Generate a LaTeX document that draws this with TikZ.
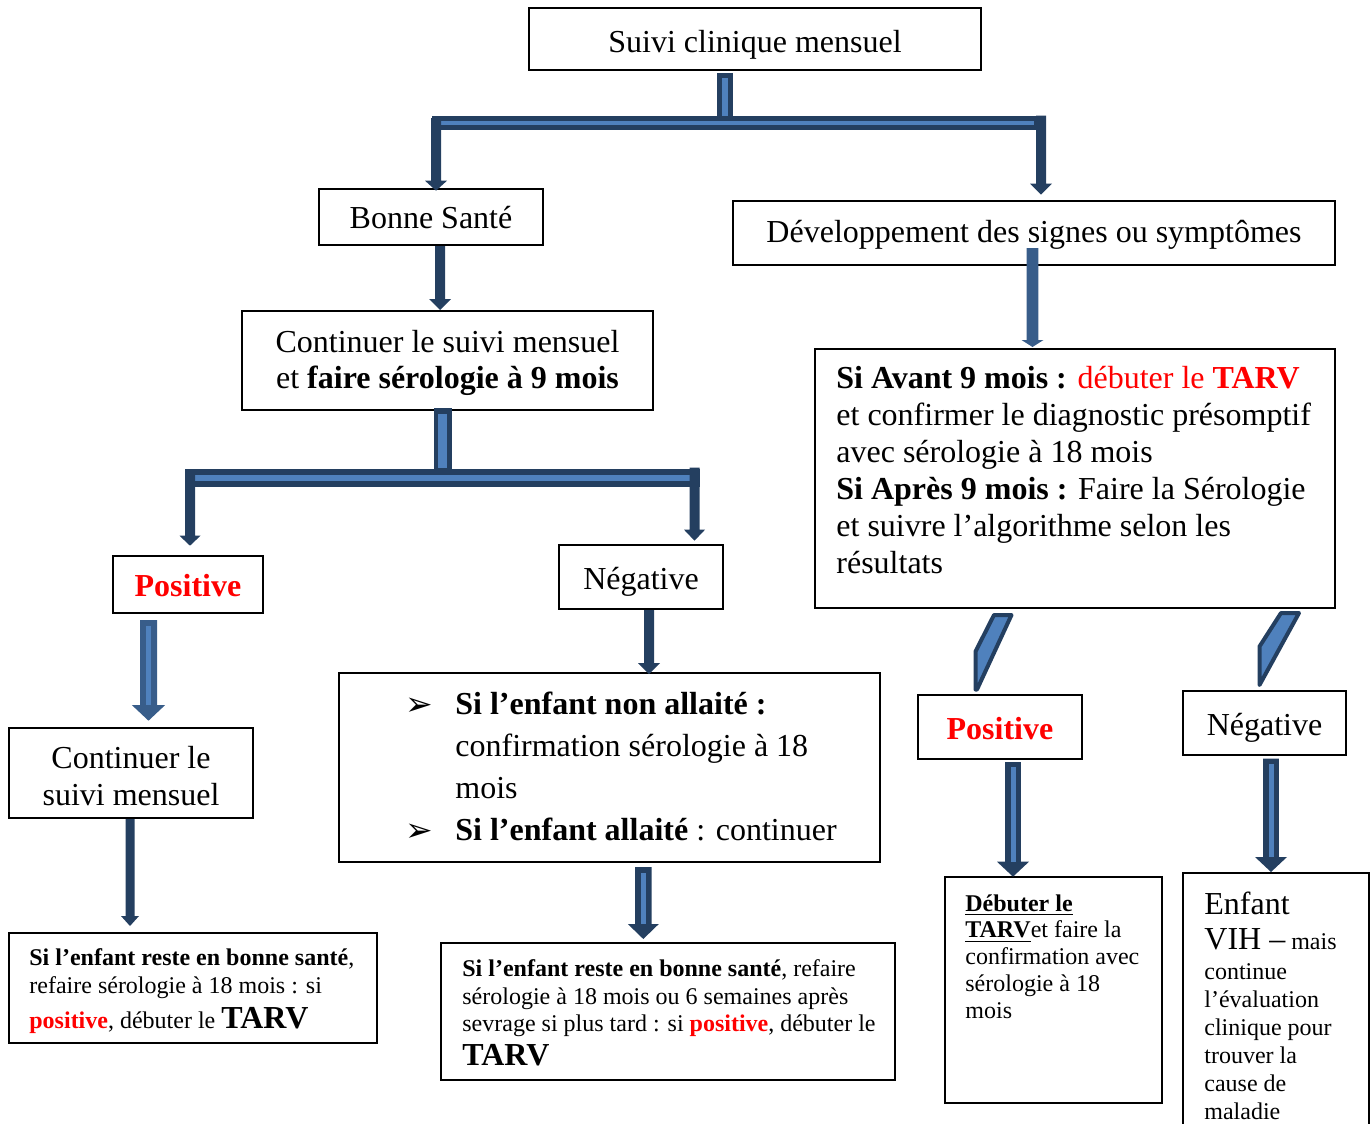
\documentclass[tikz,border=0pt]{standalone}
\usepackage{fontspec}
\setmainfont{Liberation Serif}
\newfontfamily\dejavu{DejaVu Sans}
\usetikzlibrary{calc}
\definecolor{adark}{HTML}{243F60}
\definecolor{amid}{HTML}{385D8A}
\definecolor{alight}{HTML}{4F81BD}
\definecolor{tred}{HTML}{FF0000}
\newcommand\solidarrow[6]{%
  \fill[#1] let \p1=#2, \p2=#3 in
   (\x1-#4,\y1) -- (\x1+#4,\y1) -- (\x1+#4,\y2+#6) -- (\x1+#5,\y2+#6) -- (\x1,\y2)
   -- (\x1-#5,\y2+#6) -- (\x1-#4,\y2+#6) -- cycle;}
\newcommand\stripearrow[8]{%
  \solidarrow{#1}{#2}{#3}{#4}{#5}{#6}
  \fill[#8] let \p1=#2, \p2=#3 in (\x1-#7,\y1-#4+#7) rectangle (\x1+#7,\y2+#6);}
\newcommand\bulsym{\raisebox{-0.5pt}{\dejavu\fontsize{16.5}{18}\selectfont ➢}}
\begin{document}
\begin{tikzpicture}[x=0.5pt,y=-0.5pt,
  box/.style={draw, line width=1pt, inner sep=0pt},
  mainf/.style={font=\fontsize{16}{18.5}\selectfont},
  smallf/.style={font=\fontsize{12}{14}\selectfont},
  lbl/.style={inner sep=0pt, align=center},
  txt/.style={anchor=north west, align=left, inner sep=0pt},
  diag/.style={fill=alight, draw=adark, line width=2pt, line join=round}]
\useasboundingbox (0,0) rectangle (1372,1124);
\clip (0,0) rectangle (1372,1124);

% boxes
\node[box, minimum width=226pt, minimum height=31pt] (top) at (755,39) {};
\node[box, minimum width=112pt, minimum height=28pt] (bonne) at (431,217) {};
\node[box, minimum width=301pt, minimum height=32pt] (dev) at (1034,233) {};
\node[box, minimum width=205.5pt, minimum height=49.5pt] (cont) at (447.5,360.5) {};
\node[box, minimum width=260pt, minimum height=129.5pt] (siav) at (1075,478.5) {};
\node[box, minimum width=75pt, minimum height=28.5pt] (posL) at (188,584.5) {};
\node[box, minimum width=82pt, minimum height=32pt] (negM) at (641,577) {};
\node[box, minimum width=122pt, minimum height=45pt] (contL) at (131,773) {};
\node[box, minimum width=270.5pt, minimum height=94.5pt] (bul) at (609.5,767.5) {};
\node[box, minimum width=82pt, minimum height=32pt] (posR) at (1000,727) {};
\node[box, minimum width=81.5pt, minimum height=32pt] (negR) at (1264.5,723) {};
\node[box, minimum width=184pt, minimum height=55pt] (botL) at (193,988) {};
\node[box, minimum width=227pt, minimum height=68.5pt] (botM) at (668,1011.5) {};
\node[box, minimum width=108.5pt, minimum height=113pt] (deb) at (1053.5,990) {};
\node[box, minimum width=93pt, minimum height=137pt] (enf) at (1276,1010) {};

% texts of the small boxes
\node[lbl, mainf] (topT) at ($(top)+(0,6)$) {Suivi clinique mensuel};
\node[lbl, mainf] (bonneT) at ($(bonne)+(0,1)$) {Bonne Santé};
\node[lbl, mainf] (devT) at ($(dev)+(0,2)$) {Développement des signes ou symptômes};
\node[lbl, font=\fontsize{16}{18}\selectfont] (contT) at ($(cont)+(0,2)$) {Continuer le suivi mensuel\\et \textbf{faire sérologie à 9 mois}};
\node[lbl, mainf] (posLT) at ($(posL)+(0,1)$) {\textcolor{tred}{\textbf{Positive}}};
\node[lbl, mainf] (negMT) at ($(negM)+(0,5)$) {Négative};
\node[lbl, mainf] (contLT) at ($(contL)+(0,3)$) {Continuer le\\suivi mensuel};
\node[lbl, mainf] (posRT) at ($(posR)+(0,2)$) {\textcolor{tred}{\textbf{Positive}}};
\node[lbl, mainf] (negRT) at ($(negR)+(0,5)$) {Négative};

% texts inside the large boxes
\node[txt, mainf] (siavT) at (836,366) {\textbf{Si Avant 9 mois :} \textcolor{tred}{débuter le \textbf{TARV}}\\
et confirmer le diagnostic présomptif\\
avec sérologie à 18 mois\\
\textbf{Si Après 9 mois :} Faire la Sérologie\\
et suivre l’algorithme selon les\\
résultats};
\node[txt, font=\fontsize{16}{21}\selectfont] (bulT) at (455,692) {\llap{\bulsym\hspace{11pt}}\textbf{Si l’enfant non allaité :}\\
confirmation sérologie à 18\\
mois\\
\llap{\bulsym\hspace{11pt}}\textbf{Si l’enfant allaité} : continuer};
\node[txt, smallf] (botLT) at (29,948.5) {\textbf{Si l’enfant reste en bonne santé},\\
refaire sérologie à 18 mois : si\\[3.5pt]
\textcolor{tred}{\textbf{positive}}, débuter le {\fontsize{16}{14}\selectfont\textbf{TARV}}};
\node[txt, font=\fontsize{12}{13.75}\selectfont] (botMT) at (462,959.5) {\textbf{Si l’enfant reste en bonne santé}, refaire\\
sérologie à 18 mois ou 6 semaines après\\
sevrage si plus tard : si \textcolor{tred}{\textbf{positive}}, débuter le\\[3.3pt]
{\fontsize{16}{14}\selectfont\textbf{TARV}}};
\node[txt, font=\fontsize{12}{13.4}\selectfont] (debT) at (965,894) {\underline{\textbf{Débuter le}}\\
\underline{\textbf{TARV}}et faire la\\
confirmation avec\\
sérologie à 18\\
mois};
\node[txt, smallf] (enfT) at (1204,891.5) {{\fontsize{16}{14}\selectfont Enfant}\\[3.5pt]
{\fontsize{16}{14}\selectfont VIH –} mais\\[1pt]
continue\\
l’évaluation\\
clinique pour\\
trouver la\\
cause de\\
maladie};

% first split
\coordinate (t1l) at (436,123);
\coordinate (t1r) at (1041,123);
\fill[adark] ($(top.south)+(-38,2)$) rectangle ($(top.south)+(-22,48)$);
\fill[alight] ($(top.south)+(-33,7)$) rectangle ($(top.south)+(-27,46)$);
\fill[adark] ($(t1l)+(-4,-7.3)$) rectangle ($(t1r)+(5,7)$);
\fill[alight] ($(t1l)+(5,-2)$) rectangle ($(t1r)+(-7,2)$);
\solidarrow{adark}{($(t1l)+(0,-5)$)}{($(bonne.north)+(0,2.7)$)}{2.5pt}{5.5pt}{5pt}
\solidarrow{adark}{($(t1r)+(0,-7.3)$)}{($(dev.north)+(0,-5.3)$)}{2.5pt}{5.5pt}{5.5pt}

% second split
\coordinate (t2l) at (190,478);
\coordinate (t2r) at (694.5,478);
\fill[adark] ($(cont.south)+(-14,-3)$) rectangle ($(cont.south)+(4.5,60)$);
\fill[alight] ($(cont.south)+(-9.5,2.7)$) rectangle ($(cont.south)+(-0.2,57)$);
\fill[adark] ($(t2l)+(-5,-9)$) rectangle ($(t2r)+(5,9)$);
\fill[alight] ($(t2l)+(5,-2.7)$) rectangle ($(t2r)+(-5,3.3)$);
\solidarrow{adark}{($(t2l)+(0,-8)$)}{($(posL.north)+(0,-9.3)$)}{2.5pt}{5.25pt}{5pt}
\solidarrow{adark}{($(t2r)+(0,-10.3)$)}{($(negM.north)+(0,-3.3)$)}{2.5pt}{5.25pt}{5.5pt}

% single arrows
\solidarrow{adark}{($(bonne.south)+(9,0)$)}{(cont.north)}{2.5pt}{5.5pt}{5.5pt}
\solidarrow{amid}{($(dev.south)+(-1.5,-18)$)}{($(siav.north)+(0,-1)$)}{2.9pt}{5.5pt}{3.5pt}
\stripearrow{amid}{($(posL.south)+(-39.5,6)$)}{($(contL.north)+(0,-6.3)$)}{4.25pt}{8.3pt}{7.8pt}{1.25pt}{alight}
\solidarrow{adark}{($(negM.south)+(8,0)$)}{($(bul.north)+(0,2)$)}{2.5pt}{5.5pt}{5.5pt}
\solidarrow{adark}{($(contL.south)+(-1,0)$)}{($(botL.north)+(0,-6)$)}{2.25pt}{4.5pt}{5pt}
\stripearrow{adark}{($(bul.south)+(33.8,4)$)}{($(botM.north)+(0,-3)$)}{4.15pt}{7.75pt}{7.5pt}{1.25pt}{alight}
\stripearrow{adark}{($(posR.south)+(13,2)$)}{($(deb.north)+(0,0.7)$)}{3.9pt}{8pt}{7.5pt}{1.25pt}{alight}
\stripearrow{adark}{($(negR.south)+(6.5,2.7)$)}{(enf.north)}{3.9pt}{8pt}{7.5pt}{1.25pt}{alight}

% slanted connectors
\draw[diag] ($(siav.south)+(-81,6)$) -- ($(siav.south)+(-63.5,6)$) -- ($(posR.north)+(-23,-4.5)$) -- ($(posR.north)+(-24.5,-4.5)$) -- ($(posR.north)+(-24.5,-42.5)$) -- cycle;
\draw[diag] ($(siav.south)+(206,4)$) -- ($(siav.south)+(224,4)$) -- ($(negR.north)+(-5,-5)$) -- ($(negR.north)+(-5,-43.5)$) -- cycle;
\end{tikzpicture}
\end{document}
